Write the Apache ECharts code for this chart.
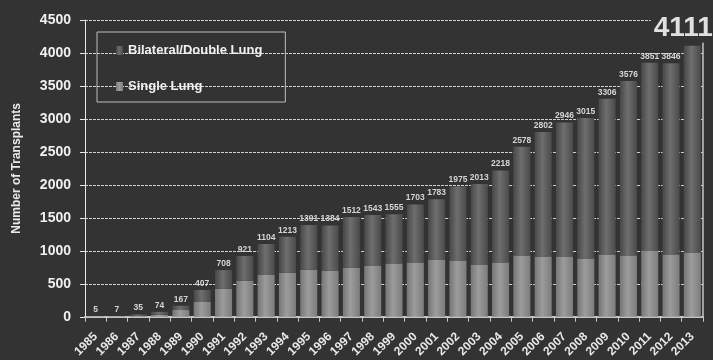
<!DOCTYPE html>
<html>
<head>
<meta charset="utf-8">
<script src="https://cdn.jsdelivr.net/npm/echarts@6/dist/echarts.min.js"></script>
<style>
  html, body { margin: 0; padding: 0; background: #333333; }
  #chart { width: 713px; height: 360px; }
</style>
</head>
<body>
<div id="chart"></div>
<script>
// Lung transplants per year, split by procedure type
const years = ['1985','1986','1987','1988','1989','1990','1991','1992','1993','1994',
  '1995','1996','1997','1998','1999','2000','2001','2002','2003','2004',
  '2005','2006','2007','2008','2009','2010','2011','2012','2013'];

const totals = [5, 7, 35, 74, 167, 407, 708, 921, 1104, 1213,
  1391, 1384, 1512, 1543, 1555, 1703, 1783, 1975, 2013, 2218,
  2578, 2802, 2946, 3015, 3306, 3576, 3851, 3846, 4111];

const singleLung = [3, 4, 15, 28, 102, 224, 423, 546, 633, 668,
  714, 699, 745, 770, 806, 821, 867, 852, 791, 821,
  929, 913, 913, 883, 944, 929, 1005, 944, 974];

const doubleLung = [2, 3, 20, 46, 65, 183, 285, 375, 471, 545,
  677, 685, 767, 773, 749, 882, 916, 1123, 1222, 1397,
  1649, 1889, 2033, 2132, 2362, 2647, 2846, 2902, 3137];

const yTicks = { min: 0, max: 4500, step: 500 };

const FONT = '"Liberation Sans", Arial, sans-serif';

function cylinder(edgeL, mid, edgeR) {
  return new echarts.graphic.LinearGradient(0, 0, 1, 0, [
    { offset: 0, color: edgeL },
    { offset: 0.45, color: mid },
    { offset: 1, color: edgeR }
  ]);
}

const lastIdx = totals.length - 1;
const doubleData = doubleLung.map((v, i) => i === lastIdx ? {
  value: v,
  label: {
    fontSize: 28,
    color: '#e0e0e0',
    offset: [-9, 0],
    distance: 3,
    backgroundColor: '#333333',
    padding: [2, 3, 0, 3]
  }
} : v);

const chart = echarts.init(document.getElementById('chart'), null, { renderer: 'canvas' });

chart.setOption({
  backgroundColor: '#333333',
  animation: false,
  textStyle: { fontFamily: FONT },
  grid: { left: 85, right: 10, top: 20, bottom: 42 },
  legend: {
    orient: 'vertical',
    left: 97,
    top: 32,
    padding: [12, 23, 9, 19],
    itemGap: 23,
    itemWidth: 7,
    itemHeight: 9,
    icon: 'rect',
    borderColor: '#bdbdbd',
    borderWidth: 1,
    textStyle: { color: '#f0f0f0', fontSize: 13, fontWeight: 'bold', fontFamily: FONT },
    data: ['Bilateral/Double Lung', 'Single Lung']
  },
  xAxis: {
    type: 'category',
    data: years,
    axisLine: { lineStyle: { color: '#c4c4c4', width: 2 } },
    axisTick: { show: true, length: 5, lineStyle: { color: '#c4c4c4', width: 1 } },
    axisLabel: {
      rotate: 45,
      interval: 0,
      margin: 18,
      color: '#e8e8e8',
      fontSize: 12,
      fontWeight: 'bold',
      fontFamily: FONT
    }
  },
  yAxis: [{
    type: 'value',
    min: yTicks.min,
    max: yTicks.max,
    interval: yTicks.step,
    name: 'Number of Transplants',
    nameLocation: 'middle',
    nameRotate: 90,
    nameGap: 62,
    nameTextStyle: { color: '#e8e8e8', fontSize: 12, fontWeight: 'bold', fontFamily: FONT },
    axisLine: { show: true, lineStyle: { color: '#e8e8e8', width: 1 } },
    axisTick: { show: true, length: 5, lineStyle: { color: '#e8e8e8' } },
    axisLabel: {
      color: '#f0f0f0', fontSize: 14, fontWeight: 'bold', margin: 14, fontFamily: FONT,
      formatter: v => String(v)
    },
    splitLine: { show: true, lineStyle: { color: '#cfcfcf', type: [3, 1], width: 1 } }
  }, {
    type: 'value',
    position: 'right',
    min: yTicks.min,
    max: yTicks.max,
    interval: yTicks.step,
    axisLine: { show: true, lineStyle: { color: '#c4c4c4', width: 1.5 } },
    axisTick: { show: false },
    axisLabel: { show: false },
    splitLine: { show: false }
  }],
  series: [{
    name: 'Single Lung',
    type: 'bar',
    stack: 'total',
    barCategoryGap: '20%',
    data: singleLung,
    itemStyle: { color: cylinder('#767676', '#9c9c9c', '#7c7c7c') }
  }, {
    name: 'Bilateral/Double Lung',
    type: 'bar',
    stack: 'total',
    barCategoryGap: '20%',
    data: doubleData,
    itemStyle: { color: cylinder('#474747', '#6e6e6e', '#4a4a4a') },
    label: {
      show: true,
      position: 'top',
      distance: 2,
      color: '#d4d4d4',
      fontSize: 8.5,
      fontWeight: 'bold',
      fontFamily: FONT,
      formatter: p => String(totals[p.dataIndex])
    }
  }]
});
</script>
</body>
</html>
